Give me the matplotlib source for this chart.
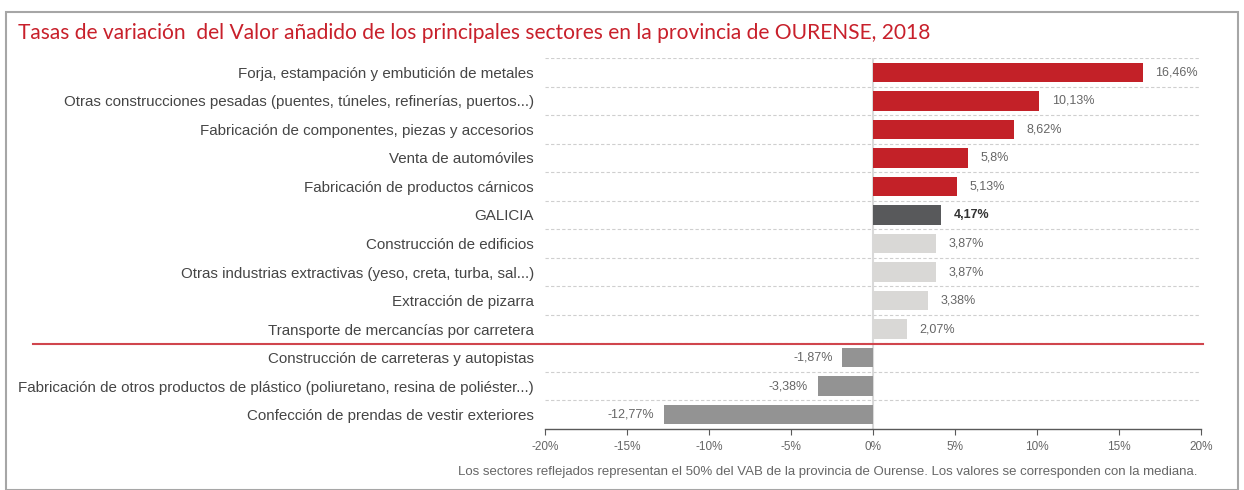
import matplotlib.pyplot as plt
from matplotlib.patches import Rectangle
from matplotlib.lines import Line2D

# data
sectores = [
    "Forja, estampación y embutición de metales",
    "Otras construcciones pesadas (puentes, túneles, refinerías, puertos...)",
    "Fabricación de componentes, piezas y accesorios",
    "Venta de automóviles",
    "Fabricación de productos cárnicos",
    "GALICIA",
    "Construcción de edificios",
    "Otras industrias extractivas (yeso, creta, turba, sal...)",
    "Extracción de pizarra",
    "Transporte de mercancías por carretera",
    "Construcción de carreteras y autopistas",
    "Fabricación de otros productos de plástico (poliuretano, resina de poliéster...)",
    "Confección de prendas de vestir exteriores",
]
valores = [16.46, 10.13, 8.62, 5.8, 5.13, 4.17, 3.87, 3.87, 3.38, 2.07, -1.87, -3.38, -12.77]
etiquetas = ["16,46%", "10,13%", "8,62%", "5,8%", "5,13%", "4,17%", "3,87%", "3,87%",
             "3,38%", "2,07%", "-1,87%", "-3,38%", "-12,77%"]
grupos = ["top", "top", "top", "top", "top", "galicia", "mid", "mid", "mid", "mid",
          "neg", "neg", "neg"]
ticks = [-20, -15, -10, -5, 0, 5, 10, 15, 20]

colores = {"top": "#c32128", "galicia": "#58595b", "mid": "#d9d8d6", "neg": "#939393"}
ROJO = "#c8202b"
TXT = "#454545"
GRIS = "#666666"

plt.rcParams['font.family'] = ['Liberation Sans', 'DejaVu Sans']

fig = plt.figure(figsize=(12.44, 4.9), dpi=100)
W, H = 1244, 490

# outer frame
fig.patches.append(Rectangle((6 / W, 0), 1232 / W, 1 - 12 / H, transform=fig.transFigure,
                             fill=False, edgecolor="#a6a6a6", linewidth=1.5))

fig.text(18 / W, 1 - 33 / H, "Tasas de variación  del Valor añadido de los principales sectores en la provincia de OURENSE, 2018",
         color=ROJO, fontsize=15.1, va="center", ha="left", family=['Lato', 'DejaVu Sans'])

ax = fig.add_axes([545 / W, 1 - 429 / H, (1201 - 545) / W, (429 - 58) / H])

y = list(range(len(sectores)))
ax.barh(y, valores, height=0.68, color=[colores[g] for g in grupos], zorder=3)

ax.set_xlim(-20, 20)
ax.set_ylim(len(sectores) - 0.5, -0.5)

# dashed separators between rows
for i in range(len(sectores)):
    ax.axhline(i - 0.5, color="#cfcfcf", linestyle=(0, (3, 2)), linewidth=0.8, zorder=1)
ax.axvline(0, color="#d9d9d9", linewidth=1.5, zorder=2)

for i, (v, t, g) in enumerate(zip(valores, etiquetas, grupos)):
    bold = g == "galicia"
    if v >= 0:
        ax.annotate(t, (v, i), xytext=(9, 0), textcoords="offset points", va="center", ha="left",
                    fontsize=9, color="#333333" if bold else GRIS,
                    fontweight="bold" if bold else "normal")
    else:
        ax.annotate(t, (v, i), xytext=(-7, 0), textcoords="offset points", va="center", ha="right",
                    fontsize=9, color=GRIS)

ax.set_yticks(y)
ax.set_yticklabels(sectores, fontsize=10.9, color=TXT)
ax.tick_params(axis="y", length=0, pad=8)

ax.set_xticks(ticks)
ax.set_xticklabels([f"{t}%" for t in ticks], fontsize=8.5, color=GRIS)
ax.tick_params(axis="x", direction="out", length=4, color="#595959", pad=5)

for s in ["top", "right", "left"]:
    ax.spines[s].set_visible(False)
ax.spines["bottom"].set_color("#595959")
ax.spines["bottom"].set_linewidth(1)

# red line separating positive and negative sectors
fig.add_artist(Line2D([33 / W, 1203 / W], [1 - 344 / H, 1 - 344 / H], color="#d0454d",
                      linewidth=1.5, transform=fig.transFigure))

fig.text(1197 / W, 1 - 472 / H,
         "Los sectores reflejados representan el 50% del VAB de la provincia de Ourense. Los valores se corresponden con la mediana.",
         ha="right", va="center", fontsize=9.5, color=GRIS)

fig.savefig("out.png", dpi=100)
